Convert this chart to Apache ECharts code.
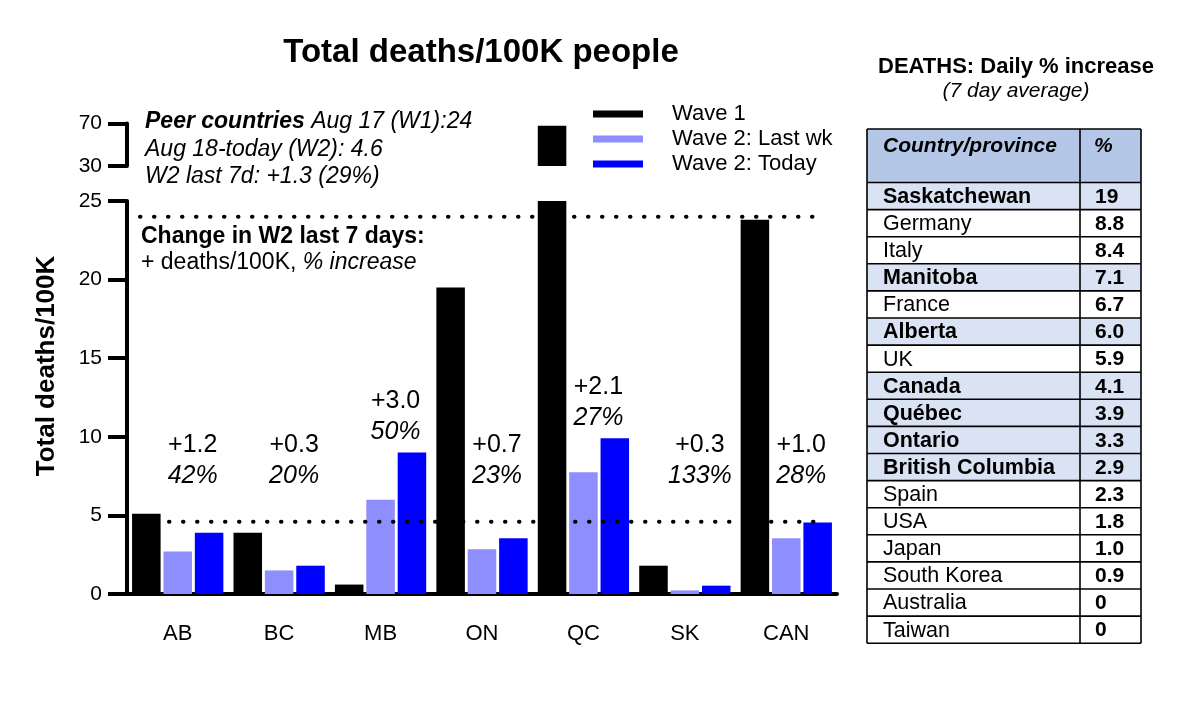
<!DOCTYPE html>
<html><head><meta charset="utf-8">
<script src="https://cdn.jsdelivr.net/npm/echarts@6/dist/echarts.min.js"></script>
<style>html,body{margin:0;padding:0;background:#fff}#c{width:1200px;height:705px}</style>
</head><body><div id="c"></div>
<script>
// ---------- DATA ----------
const regions = ['AB', 'BC', 'MB', 'ON', 'QC', 'SK', 'CAN'];
const wave1 = [5.1, 3.9, 0.6, 19.5, 68, 1.8, 23.8];
const wave2LastWk = [2.7, 1.5, 6.0, 2.85, 7.75, 0.23, 3.55];
const wave2Today = [3.9, 1.8, 9.0, 3.55, 9.9, 0.53, 4.55];
const weekChange = [1.2, 0.3, 3.0, 0.7, 2.1, 0.3, 1.0];
const weekPct = [42, 20, 50, 23, 27, 133, 28];
const peerWave1 = 24;
const peerWave2 = 4.6;
const peerWeekChange = 1.3;
const peerWeekPct = 29;
const lowerTicks = [0, 5, 10, 15, 20, 25];
const upperTicks = [30, 70];
const tableNames = ['Saskatchewan', 'Germany', 'Italy', 'Manitoba', 'France', 'Alberta', 'UK', 'Canada', 'Québec', 'Ontario', 'British Columbia', 'Spain', 'USA', 'Japan', 'South Korea', 'Australia', 'Taiwan'];
const tableValues = [19, 8.8, 8.4, 7.1, 6.7, 6.0, 5.9, 4.1, 3.9, 3.3, 2.9, 2.3, 1.8, 1.0, 0.9, 0, 0];
const tableCanadian = [true, false, false, true, false, true, false, true, true, true, true, false, false, false, false, false, false];

// ---------- LAYOUT / STYLE ----------
const FONT = '"Liberation Sans", Arial, sans-serif';
const GL = 127, GW = 710;
const LOWER = {top: 201, height: 393};
const UPPER = {top: 123.5, height: 42.5};
const C_W1 = '#000000', C_LAST = '#8e8eff', C_TODAY = '#0000ff';
const LABEL_FLOOR = 6.2;

const chart = echarts.init(document.getElementById('c'));

function yAxisStyle(extra) {
  return Object.assign({
    type: 'value',
    axisLine: {show: true, lineStyle: {color: '#000', width: 4}},
    axisTick: {show: true, length: 19, lineStyle: {color: '#000', width: 4}},
    axisLabel: {fontSize: 21, color: '#000', margin: 25, fontFamily: FONT},
    splitLine: {show: false}
  }, extra);
}

const upperOnly = arr => arr.map(v => (v > upperTicks[0] ? v : null));

const barCommon = {type: 'bar', barCategoryGap: '10%', barGap: '10%', clip: true};

// ---------- TABLE (graphic) ----------
const TX0 = 867, TX1 = 1080, TX2 = 1141, THEAD = 129, THEADB = 182.5, ROWH = 27.1;
const tableGraphics = [];
tableGraphics.push({type: 'rect', shape: {x: TX0, y: THEAD, width: TX2 - TX0, height: THEADB - THEAD}, style: {fill: '#b4c7e7'}, silent: true});
tableNames.forEach((n, i) => {
  const y0 = THEADB + i * ROWH;
  if (tableCanadian[i]) {
    tableGraphics.push({type: 'rect', shape: {x: TX0, y: y0, width: TX2 - TX0, height: ROWH}, style: {fill: '#dae3f3'}, silent: true});
  }
});
const tBottom = THEADB + tableNames.length * ROWH;
const hl = y => ({type: 'line', shape: {x1: TX0, y1: y, x2: TX2, y2: y}, style: {stroke: '#000', lineWidth: 1.6}, silent: true, z: 10});
tableGraphics.push(hl(THEAD), hl(THEADB));
tableNames.forEach((n, i) => tableGraphics.push(hl(THEADB + (i + 1) * ROWH)));
[TX0, TX1, TX2].forEach(x => tableGraphics.push({type: 'line', shape: {x1: x, y1: THEAD, x2: x, y2: tBottom}, style: {stroke: '#000', lineWidth: 1.6}, silent: true, z: 10}));
tableGraphics.push({type: 'text', x: 883, y: 146, style: {text: 'Country/province', fontSize: 21, fontWeight: 'bold', fontStyle: 'italic', fontFamily: FONT, fill: '#000', align: 'left', verticalAlign: 'middle'}, z: 11});
tableGraphics.push({type: 'text', x: 1094, y: 146, style: {text: '%', fontSize: 21, fontWeight: 'bold', fontStyle: 'italic', fontFamily: FONT, fill: '#000', align: 'left', verticalAlign: 'middle'}, z: 11});
const fmtVal = v => (v === 0 ? '0' : v >= 10 ? String(v) : v.toFixed(1));
tableNames.forEach((n, i) => {
  const yc = THEADB + i * ROWH + ROWH / 2 + 1;
  tableGraphics.push({type: 'text', x: 883, y: yc, style: {text: n, fontSize: 21.5, fontWeight: tableCanadian[i] ? 'bold' : 'normal', fontFamily: FONT, fill: '#000', align: 'left', verticalAlign: 'middle'}, z: 11});
  tableGraphics.push({type: 'text', x: 1095, y: yc, style: {text: fmtVal(tableValues[i]), fontSize: 21, fontWeight: 'bold', fontFamily: FONT, fill: '#000', align: 'left', verticalAlign: 'middle'}, z: 11});
});

const tok = (weight, style, size) => ({fontSize: size, fontWeight: weight, fontStyle: style, fontFamily: FONT, fill: '#000'});

const option = {
  animation: false,
  backgroundColor: '#fff',
  title: {
    text: 'Total deaths/100K people', left: 481, top: 36, textAlign: 'center', padding: 0,
    textStyle: {fontSize: 33, fontWeight: 'bold', color: '#000', fontFamily: FONT}
  },
  legend: {
    orient: 'vertical', left: 593, top: 103, itemWidth: 50, itemHeight: 7, itemGap: 3, icon: 'rect',
    selectedMode: false, padding: 0,
    data: ['Wave 1', 'Wave 2: Last wk', 'Wave 2: Today'],
    textStyle: {fontSize: 22, color: '#000', fontFamily: FONT, lineHeight: 22, padding: [0, 0, 0, 24]}
  },
  grid: [
    {left: GL, width: GW, top: LOWER.top, height: LOWER.height},
    {left: GL, width: GW, top: UPPER.top, height: UPPER.height}
  ],
  xAxis: [
    {type: 'category', gridIndex: 0, data: regions,
      axisLine: {lineStyle: {color: '#000', width: 4}},
      axisTick: {alignWithLabel: true, length: 17, lineStyle: {color: '#000', width: 4}},
      axisLabel: {fontSize: 22, color: '#000', margin: 29, fontFamily: FONT},
      splitLine: {show: false}},
    {type: 'category', gridIndex: 1, data: regions, show: false},
    {type: 'value', gridIndex: 0, min: 0, max: regions.length, show: false}
  ],
  yAxis: [
    yAxisStyle({gridIndex: 0, min: lowerTicks[0], max: lowerTicks[lowerTicks.length - 1], interval: lowerTicks[1] - lowerTicks[0]}),
    yAxisStyle({gridIndex: 1, min: upperTicks[0], max: upperTicks[1], interval: 10,
      axisTick: {show: true, length: 19, lineStyle: {color: '#000', width: 4}, customValues: upperTicks},
      axisLabel: {fontSize: 21, color: '#000', margin: 25, fontFamily: FONT, customValues: upperTicks}})
  ],
  series: [
    Object.assign({name: 'Wave 1', xAxisIndex: 0, yAxisIndex: 0, data: wave1, itemStyle: {color: C_W1}}, barCommon),
    Object.assign({name: 'Wave 2: Last wk', xAxisIndex: 0, yAxisIndex: 0, data: wave2LastWk, itemStyle: {color: C_LAST}}, barCommon),
    Object.assign({name: 'Wave 2: Today', xAxisIndex: 0, yAxisIndex: 0, data: wave2Today, itemStyle: {color: C_TODAY}}, barCommon),
    Object.assign({name: 'Wave 1', xAxisIndex: 1, yAxisIndex: 1, data: upperOnly(wave1), itemStyle: {color: C_W1}}, barCommon),
    Object.assign({name: 'Wave 2: Last wk', xAxisIndex: 1, yAxisIndex: 1, data: upperOnly(wave2LastWk), itemStyle: {color: C_LAST}}, barCommon),
    Object.assign({name: 'Wave 2: Today', xAxisIndex: 1, yAxisIndex: 1, data: upperOnly(wave2Today), itemStyle: {color: C_TODAY}}, barCommon),
    {name: 'Peer W1', type: 'line', xAxisIndex: 2, yAxisIndex: 0, silent: true, symbol: 'none', z: 5,
      data: [[0.128, peerWave1], [6.852, peerWave1]],
      lineStyle: {color: '#000', width: 4, type: [0.5, 13.5], cap: 'round'}},
    {name: 'Peer W2', type: 'line', xAxisIndex: 2, yAxisIndex: 0, silent: true, symbol: 'none', z: 5,
      data: [[0.414, peerWave2], [6.852, peerWave2]],
      lineStyle: {color: '#000', width: 4, type: [0.5, 13.5], cap: 'round'}},
    {name: 'Change', type: 'scatter', xAxisIndex: 0, yAxisIndex: 0, silent: true, symbolSize: 0, z: 10,
      itemStyle: {opacity: 1, color: '#000'},
      data: regions.map((r, i) => [i, Math.max(wave2Today[i], LABEL_FLOOR)]),
      label: {show: true, position: 'top', distance: 5, offset: [15, 0], color: '#000', opacity: 1,
        formatter: p => '{a|+' + weekChange[p.dataIndex].toFixed(1) + '}\n{b|' + weekPct[p.dataIndex] + '%}',
        rich: {
          a: {fontSize: 25, fontFamily: FONT, color: '#000', lineHeight: 31},
          b: {fontSize: 25, fontFamily: FONT, color: '#000', fontStyle: 'italic', lineHeight: 31}
        }}}
  ],
  graphic: [
    {type: 'text', x: 47, y: 366, rotation: Math.PI / 2,
      style: {text: 'Total deaths/100K', fontSize: 26, fontWeight: 'bold', fontFamily: FONT, fill: '#000', align: 'center', verticalAlign: 'middle'}},
    {type: 'text', x: 145, y: 122,
      style: {text: '{bi|Peer countries}{i| Aug 17 (W1):' + peerWave1 + '}', verticalAlign: 'middle', align: 'left',
        rich: {bi: tok('bold', 'italic', 23), i: tok('normal', 'italic', 23)}}},
    {type: 'text', x: 145, y: 149.5,
      style: {text: 'Aug 18-today (W2): ' + peerWave2, fontSize: 23, fontStyle: 'italic', fontFamily: FONT, fill: '#000', verticalAlign: 'middle', align: 'left'}},
    {type: 'text', x: 145, y: 177,
      style: {text: 'W2 last 7d: +' + peerWeekChange.toFixed(1) + ' (' + peerWeekPct + '%)', fontSize: 23, fontStyle: 'italic', fontFamily: FONT, fill: '#000', verticalAlign: 'middle', align: 'left'}},
    {type: 'text', x: 141, y: 237,
      style: {text: 'Change in W2 last 7 days:', fontSize: 23, fontWeight: 'bold', fontFamily: FONT, fill: '#000', verticalAlign: 'middle', align: 'left'}},
    {type: 'text', x: 141, y: 263,
      style: {text: '{r|+ deaths/100K, }{i|% increase}', verticalAlign: 'middle', align: 'left',
        rich: {r: tok('normal', 'normal', 23), i: tok('normal', 'italic', 23)}}},
    {type: 'text', x: 1016, y: 67,
      style: {text: 'DEATHS: Daily % increase', fontSize: 22, fontWeight: 'bold', fontFamily: FONT, fill: '#000', verticalAlign: 'middle', align: 'center'}},
    {type: 'text', x: 1016, y: 91,
      style: {text: '(7 day average)', fontSize: 21, fontStyle: 'italic', fontFamily: FONT, fill: '#000', verticalAlign: 'middle', align: 'center'}}
  ].concat(tableGraphics)
};
chart.setOption(option);
</script>
</body></html>
